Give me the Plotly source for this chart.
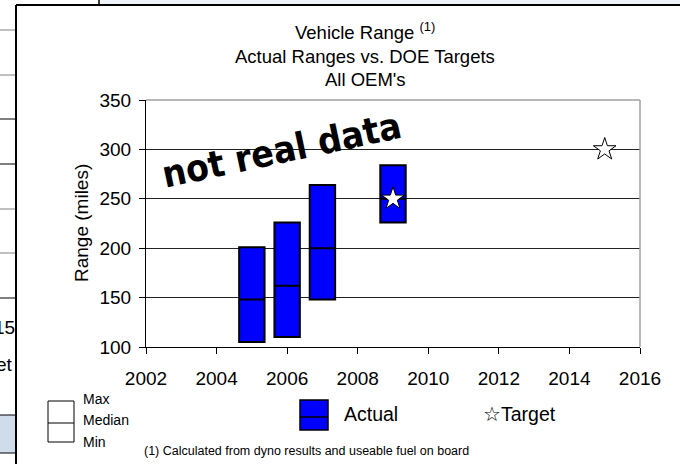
import plotly.graph_objects as go

# Actual vehicle ranges per model year (miles)
years = [2005, 2006, 2007, 2009]
range_min = [105, 110, 148, 226]
range_median = [148, 162, 200, 250]
range_max = [201, 226, 264, 284]

# DOE targets
target_years = [2009, 2015]
target_range = [250, 300]

FONT = "Liberation Sans, Arial, sans-serif"

# plot area in pixels (680x464 canvas)
L, R, T, B = 146, 640, 100, 347


def px(x):
    return (x - L) / (R - L)


def py(y):
    return (B - y) / (B - T)


fig = go.Figure()

fig.add_trace(go.Box(
    x=years, q1=range_min, median=range_median, q3=range_max,
    lowerfence=range_min, upperfence=range_max,
    width=0.72, whiskerwidth=0, boxpoints=False,
    fillcolor="#0000ff", line=dict(color="black", width=2),
    showlegend=False, hoverinfo="skip",
))

fig.add_trace(go.Scatter(
    x=target_years, y=target_range, mode="markers",
    marker=dict(symbol="star", size=17, color="white",
                line=dict(color="black", width=1)),
    showlegend=False, hoverinfo="skip",
))

shapes = []
# top and right border of plot area (gray)
shapes.append(dict(type="line", xref="paper", yref="paper", x0=0, x1=1, y0=1, y1=1,
                   line=dict(color="#a0a0a0", width=1.5)))
shapes.append(dict(type="line", xref="paper", yref="paper", x0=1, x1=1, y0=0, y1=1,
                   line=dict(color="#a0a0a0", width=1.5)))

# background slide pieces
shapes.append(dict(type="rect", xref="paper", yref="paper", x0=px(99), x1=px(682),
                   y0=py(5), y1=py(-2), fillcolor="#eef3f9",
                   line=dict(color="black", width=1.5)))
shapes.append(dict(type="rect", xref="paper", yref="paper", x0=px(-2), x1=px(16),
                   y0=py(453), y1=py(415), fillcolor="#cfdcea",
                   line=dict(color="black", width=1)))
for yy, col in [(30, "#808080"), (75, "#808080"), (119, "black"), (164, "black"),
                (209, "#808080"), (253, "#808080"), (298, "black")]:
    shapes.append(dict(type="line", xref="paper", yref="paper", x0=px(0), x1=px(16),
                       y0=py(yy), y1=py(yy), line=dict(color=col, width=1)))
# chart frame
shapes.append(dict(type="line", xref="paper", yref="paper", x0=px(16), x1=px(682),
                   y0=py(5), y1=py(5), line=dict(color="black", width=2)))
shapes.append(dict(type="line", xref="paper", yref="paper", x0=px(16), x1=px(16),
                   y0=py(5), y1=py(470), line=dict(color="black", width=2)))

# legend icons
shapes.append(dict(type="rect", xref="paper", yref="paper", x0=px(48), x1=px(74),
                   y0=py(442), y1=py(401), fillcolor="white",
                   line=dict(color="black", width=1)))
shapes.append(dict(type="line", xref="paper", yref="paper", x0=px(48), x1=px(74),
                   y0=py(423), y1=py(423), line=dict(color="black", width=1)))
shapes.append(dict(type="rect", xref="paper", yref="paper", x0=px(300), x1=px(328),
                   y0=py(430), y1=py(400), fillcolor="#0000ff",
                   line=dict(color="black", width=1.5)))
shapes.append(dict(type="line", xref="paper", yref="paper", x0=px(300), x1=px(328),
                   y0=py(417), y1=py(417), line=dict(color="black", width=1.5)))


def note(text, x, y, size, xanchor="left", angle=0, family=FONT, color="black"):
    return dict(text=text, xref="paper", yref="paper", x=px(x), y=py(y),
                xanchor=xanchor, yanchor="middle", showarrow=False,
                textangle=angle, font=dict(family=family, size=size, color=color))


annotations = [
    note("Vehicle Range <sup>(1)</sup>", 365, 31, 18.5, "center"),
    note("Actual Ranges vs. DOE Targets", 365, 56, 18.5, "center"),
    note("All OEM's", 365, 80, 18.5, "center"),
    note("Range (miles)", 81, 223, 19, "center", angle=-90),
    note("<b>not real data</b>", 281, 150, 37, "center", angle=-12,
         family="Liberation Sans Narrow, DejaVu Sans Condensed, sans-serif"),
    note("Max", 81, 399, 14),
    note("Median", 81, 420, 14),
    note("Min", 81, 442, 14),
    note("Actual", 342, 414, 19.5),
    note("☆Target", 481, 414, 19.5),
    note("(1) Calculated from dyno results and useable fuel on board", 142, 451, 12.5),
    note("15", 17, 327, 19, "right"),
    note("et", 15, 364, 19, "right"),
]

fig.update_layout(
    width=680, height=464,
    margin=dict(l=L, r=680 - R, t=T, b=464 - B),
    paper_bgcolor="white", plot_bgcolor="white",
    font=dict(family=FONT, size=19, color="black"),
    xaxis=dict(range=[2002, 2016], tickvals=[2002, 2004, 2006, 2008, 2010, 2012, 2014, 2016],
               showgrid=False, zeroline=False, showline=True, linecolor="black", linewidth=1,
               ticks="outside", ticklen=6, tickcolor="black", ticklabelstandoff=8),
    yaxis=dict(range=[100, 350], dtick=50, showgrid=True, gridcolor="#222222", gridwidth=1,
               zeroline=False, showline=True, linecolor="black", linewidth=1,
               ticks="outside", ticklen=6, tickcolor="black", ticklabelstandoff=4),
    shapes=shapes,
    annotations=annotations,
)

# page body has a default 8px margin; drop it so the figure sits at the window corner
fig.write_html("out.html", config={"displayModeBar": False},
               post_script="document.body.style.margin='0';")
